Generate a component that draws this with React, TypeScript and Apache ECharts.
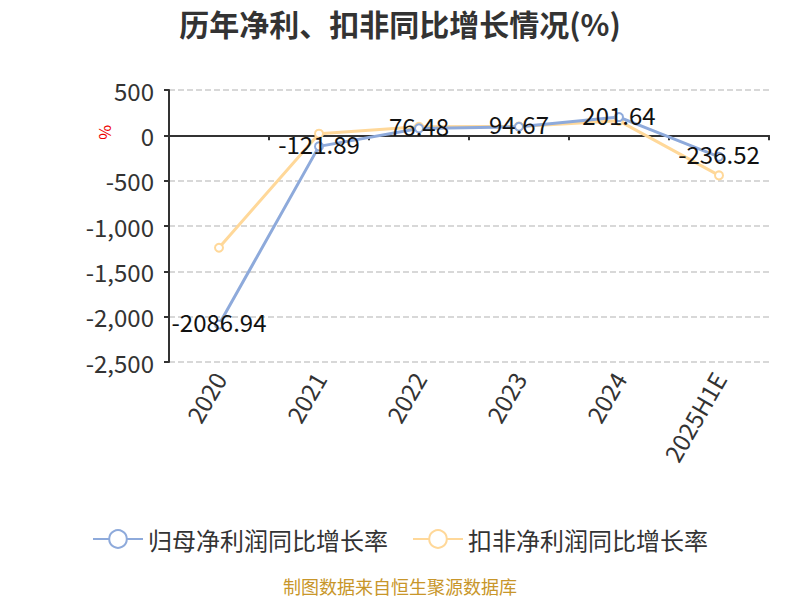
import React, { useEffect, useRef } from "react";
import * as echarts from "echarts";

const categories = ["2020", "2021", "2022", "2023", "2024", "2025H1E"];
const netProfitGrowth = [-2086.94, -121.89, 76.48, 94.67, 201.64, -236.52];
const deductedGrowth = [-1240, 18, 95, 98, 160, -442];
const seriesNames = ["归母净利润同比增长率", "扣非净利润同比增长率"];
const titleText = "历年净利、扣非同比增长情况(%)";
const sourceText = "制图数据来自恒生聚源数据库";

const FONT = "'Noto Sans CJK SC', 'Noto Sans', sans-serif";

export default function App() {
  const ref = useRef<HTMLDivElement>(null);
  useEffect(() => {
    document.body.style.margin = "0";
    if (!ref.current) return;
    const chart = echarts.init(ref.current, undefined, { renderer: "svg" });
    chart.setOption({
      animation: false,
      textStyle: { fontFamily: FONT },
      title: {
        text: titleText,
        left: "center",
        top: 3,
        textStyle: { fontSize: 30, fontWeight: "bold", color: "#333", fontFamily: FONT },
      },
      legend: {
        top: 522,
        left: "center",
        itemWidth: 50,
        itemHeight: 22,
        itemGap: 24,
        textStyle: { fontSize: 24, color: "#333", fontFamily: FONT },
        data: seriesNames,
      },
      grid: { left: 169, right: 31, top: 90, bottom: 238 },
      xAxis: {
        type: "category",
        data: categories,
        boundaryGap: true,
        axisLine: { lineStyle: { color: "#333", width: 2 } },
        axisTick: { show: true, alignWithLabel: false, lineStyle: { color: "#333", width: 2 } },
        axisLabel: { rotate: 60, fontSize: 24, color: "#333", margin: 12, interval: 0 },
      },
      yAxis: {
        type: "value",
        min: -2500,
        max: 500,
        interval: 500,
        axisLine: { show: true, lineStyle: { color: "#333", width: 2 } },
        axisTick: { show: true, lineStyle: { color: "#333", width: 2 } },
        axisLabel: {
          fontSize: 24,
          color: "#333",
          margin: 15,
          formatter: (v: number) => v.toLocaleString("en-US"),
        },
        splitLine: { lineStyle: { type: "dashed", color: "#ccc", width: 1.5 } },
      },
      graphic: [
        {
          type: "text",
          x: 114,
          y: 125,
          rotation: -Math.PI / 2,
          style: { text: "%", fill: "#e00", fontSize: 16, fontFamily: FONT },
        },
        {
          type: "text",
          left: "center",
          top: 577,
          style: { text: sourceText, fill: "#c8962a", fontSize: 18, fontFamily: FONT },
        },
      ],
      series: [
        {
          name: seriesNames[0],
          type: "line",
          data: netProfitGrowth,
          symbol: "emptyCircle",
          symbolSize: 8,
          lineStyle: { color: "#8eaadb", width: 3 },
          itemStyle: { color: "#8eaadb" },
          z: 3,
          label: {
            show: true,
            position: "inside",
            offset: [0, -3],
            fontSize: 24,
            color: "#111",
            fontFamily: FONT,
          },
        },
        {
          name: seriesNames[1],
          type: "line",
          data: deductedGrowth,
          symbol: "emptyCircle",
          symbolSize: 8,
          lineStyle: { color: "#ffd899", width: 3 },
          itemStyle: { color: "#ffd899" },
          z: 2,
        },
      ],
    });
    return () => chart.dispose();
  }, []);
  return <div ref={ref} style={{ width: 800, height: 600 }} />;
}
